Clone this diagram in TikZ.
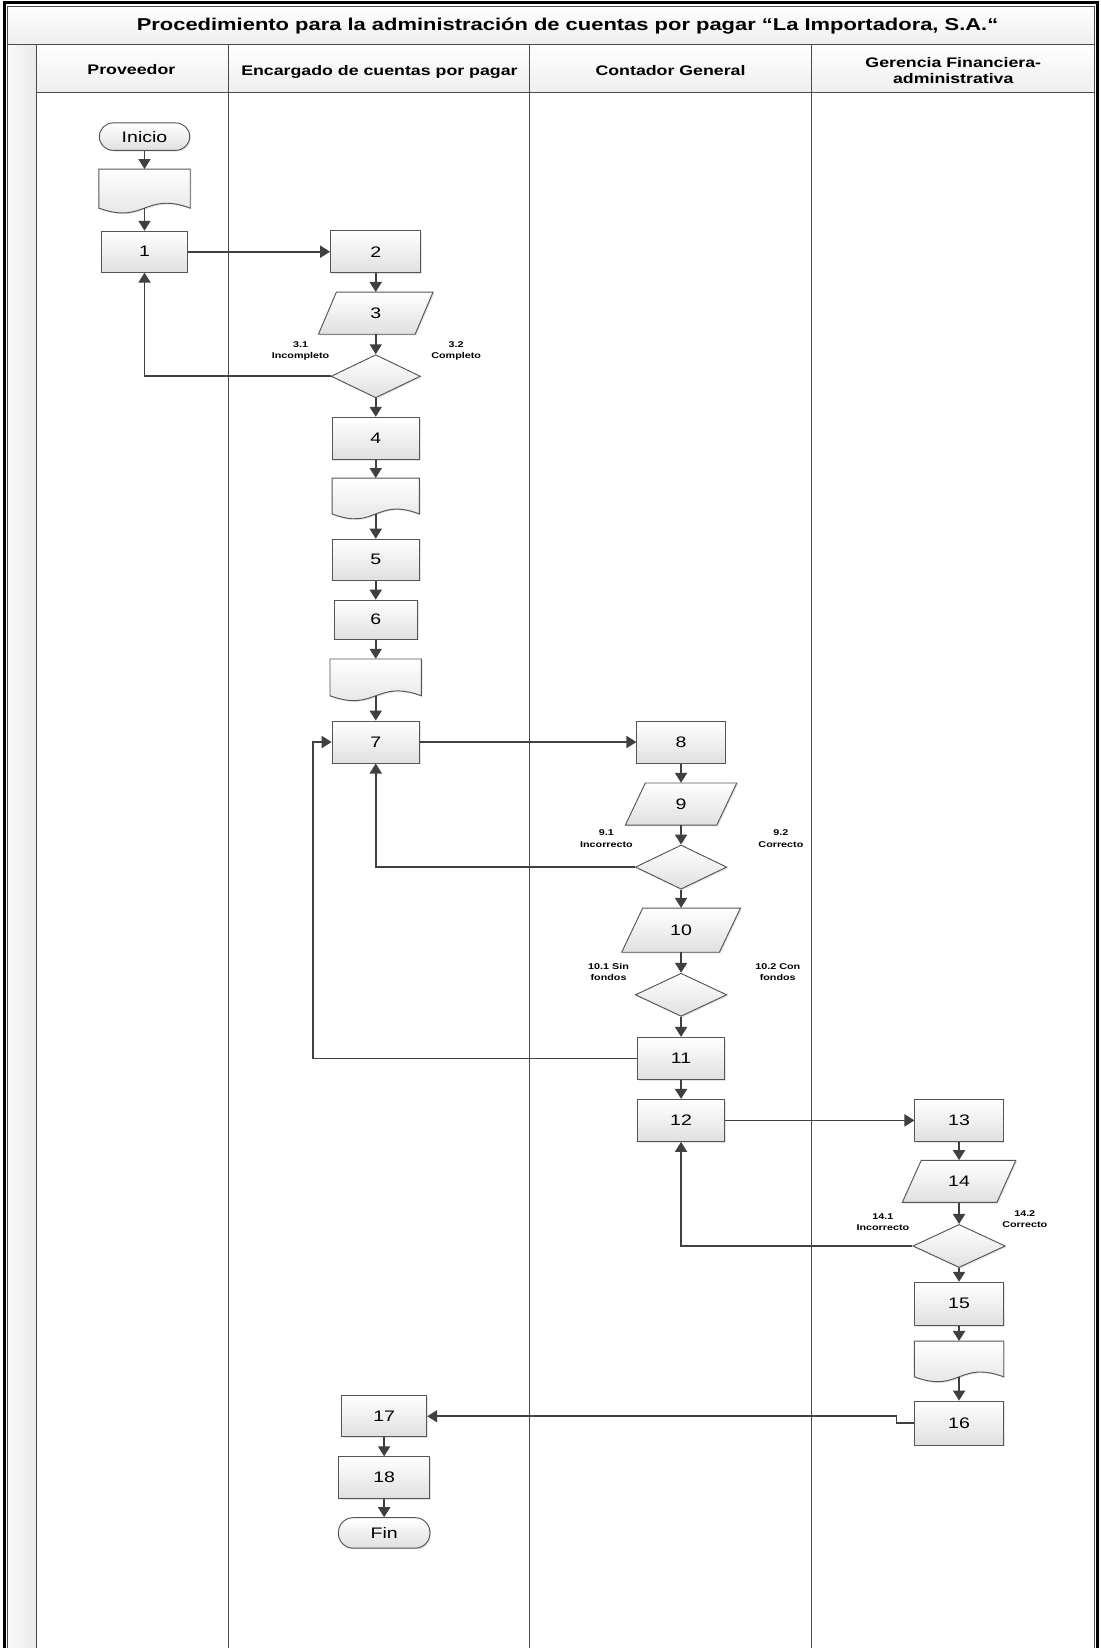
\documentclass[tikz,border=0pt]{standalone}
\usepackage{fontspec}
\setmainfont{Liberation Sans}[FakeStretch=1.28]
\usetikzlibrary{shapes.geometric,arrows.meta,shadows,calc}
\definecolor{lineclr}{HTML}{404040}
\definecolor{boxline}{HTML}{555555}
\definecolor{boxbot}{HTML}{E0E0E0}
\definecolor{lanegray}{HTML}{4A4A4A}
\newcommand{\nfnt}{\fontsize{14.5}{16}\selectfont}
\newcommand{\lfnt}{\bfseries\fontsize{8}{11}\selectfont}
\newcommand{\hfnt}{\bfseries\fontsize{13.2}{15}\selectfont}
\tikzset{
  shade box/.style={top color=white, bottom color=boxbot, draw=boxline, line width=0.9pt},
  shadowopt/.style={drop shadow={shadow xshift=1.2pt, shadow yshift=-1.2pt, opacity=0.22}},
  procbox/.style={rectangle, shade box, shadowopt, inner sep=0pt, font=\nfnt},
  termbox/.style={rectangle, rounded corners=13pt, shade box, shadowopt, inner sep=0pt, font=\nfnt},
  decbox/.style={diamond, shade box, shadowopt, inner sep=0pt},
  lbl/.style={align=center, font=\lfnt, inner sep=0pt},
  hdr/.style={align=center, font=\hfnt, inner sep=0pt},
  conn/.style={draw=lineclr, line width=1.6pt, -{Triangle[length=9.5pt,width=11.5pt]}},
  lane/.style={draw=lanegray, line width=1pt}
}
% document shape: name, xl, xr, ytop, ybase
\newcommand{\docshape}[5]{%
  \path[shade box, shadowopt] (#2,-#4) -- (#3,-#4) -- (#3,-#5)
    .. controls ({(#2+#3)/2},{-#5+16}) and ({(#2+#3)/2},{-#5-16}) .. (#2,-#5) -- cycle;
  \node[inner sep=0pt, minimum width={#3-#2}, minimum height={#5-#4}] (#1) at ({(#2+#3)/2},{-(#4+#5)/2}) {};
}
% io shape: name, cx, cy, total width, height, slant, text
\newcommand{\ioshape}[7]{%
  \path[shade box, shadowopt] ({#2-#4/2+#6},{-#3+#5/2}) -- ({#2+#4/2},{-#3+#5/2})
    -- ({#2+#4/2-#6},{-#3-#5/2}) -- ({#2-#4/2},{-#3-#5/2}) -- cycle;
  \node[inner sep=0pt, minimum width={#4-2*#6}, minimum height=#5, font=\nfnt] (#1) at (#2,-#3) {#7};
}
\begin{document}
\begin{tikzpicture}[x=1pt,y=1pt]
\fill[white] (0,0) rectangle (1047,-1568);
\useasboundingbox (0,0) rectangle (1047,-1568);
% frame
\path[top color=white, bottom color=gray!13] (7.5,-6) rectangle (1041,-42);
\path[left color=gray!5, right color=gray!17] (7.5,-42) rectangle (35,-1572);
\path[top color=white, bottom color=gray!13] (35,-42) rectangle (1041,-88);
\draw[lane] (7.5,-42) -- (1041,-42);
\draw[lane] (35,-88) -- (1041,-88);
\foreach \xx in {35,217,504,772} { \draw[lane] (\xx,-42) -- (\xx,-1572); }
\draw[gray!60!black, line width=1pt] (7.5,-1572) -- (7.5,-6) -- (1041,-6) -- (1041,-1572);
\draw[black, line width=2.5pt] (4,-1572) -- (4,-2.5) -- (1044.5,-2.5) -- (1044.5,-1572);
% titles
\node[font=\bfseries\fontsize{16.3}{18}\selectfont, inner sep=0pt] (title) at (540,-25) {Procedimiento para la administración de cuentas por pagar “La Importadora, S.A.“};
\node[hdr] (h1) at (125,-66) {Proveedor};
\node[hdr] (h2) at (361,-68) {Encargado de cuentas por pagar};
\node[hdr] (h3) at (638,-67) {Contador General};
\node[hdr] (h4) at (907,-67) {Gerencia Financiera-\\administrativa};
% Proveedor lane
\node[termbox, minimum width=86pt, minimum height=26pt] (ini) at (137.5,-130) {Inicio};
\docshape{d1}{94}{181}{161}{198}
\node[procbox, minimum width=81pt, minimum height=39pt] (p1) at (137.5,-239.5) {1};
% Encargado lane
\node[procbox, minimum width=86pt, minimum height=40pt] (p2) at (357.5,-239.5) {2};
\ioshape{io3}{357.5}{298}{109}{40}{17}{3}
\node[decbox, minimum width=85pt, minimum height=41pt] (dia3) at (357.5,-358) {};
\node[procbox, minimum width=83pt, minimum height=40pt] (p4) at (357.5,-417) {4};
\docshape{d4}{316}{399}{455}{489}
\node[procbox, minimum width=83pt, minimum height=39pt] (p5) at (357.5,-532.5) {5};
\node[procbox, minimum width=79pt, minimum height=37pt] (p6) at (357.5,-589.5) {6};
\docshape{d6}{314}{401}{627}{662}
\node[procbox, minimum width=83pt, minimum height=40pt] (p7) at (357.5,-706) {7};
% Contador lane
\node[procbox, minimum width=84pt, minimum height=40pt] (p8) at (648,-706) {8};
\ioshape{io9}{648}{765}{106}{40}{19}{9}
\node[decbox, minimum width=87pt, minimum height=42pt] (dia9) at (648,-825) {};
\ioshape{io10}{648}{885}{113}{42}{20}{10}
\node[decbox, minimum width=87pt, minimum height=41pt] (dia10) at (648,-946.5) {};
\node[procbox, minimum width=83pt, minimum height=40pt] (p11) at (648,-1007) {11};
\node[procbox, minimum width=83pt, minimum height=40pt] (p12) at (648,-1066) {12};
% Gerencia lane
\node[procbox, minimum width=84pt, minimum height=40pt] (p13) at (912.5,-1066) {13};
\ioshape{io14}{912.5}{1124}{108}{40}{18}{14}
\node[decbox, minimum width=88pt, minimum height=41pt] (dia14) at (912.5,-1185.5) {};
\node[procbox, minimum width=85pt, minimum height=41pt] (p15) at (912.5,-1240.5) {15};
\docshape{d15}{870}{955}{1276}{1310}
\node[procbox, minimum width=85pt, minimum height=42pt] (p16) at (912.5,-1354) {16};
% bottom of Encargado lane
\node[procbox, minimum width=81pt, minimum height=39pt] (p17) at (365.5,-1347.5) {17};
\node[procbox, minimum width=87pt, minimum height=40pt] (p18) at (365.5,-1406) {18};
\node[termbox, minimum width=87pt, minimum height=29pt, rounded corners=14pt] (fin) at (365.5,-1458.5) {Fin};
% labels
\node[lbl] (l31) at (286,-334) {3.1\\Incompleto};
\node[lbl] (l32) at (434,-334) {3.2\\Completo};
\node[lbl] (l91) at (577,-798) {9.1\\Incorrecto};
\node[lbl] (l92) at (743,-798) {9.2\\Correcto};
\node[lbl] (l101) at (579,-925) {10.1 Sin\\fondos};
\node[lbl] (l102) at (740,-925) {10.2 Con\\fondos};
\node[lbl] (l141) at (840,-1163) {14.1\\Incorrecto};
\node[lbl] (l142) at (975,-1160) {14.2\\Correcto};
% helper coordinates
\coordinate (c11) at (298,-1007);
\coordinate (c16) at (853,-1354);
% connectors
\draw[conn] (ini.south) -- (d1.north);
\draw[conn] (d1.south) -- (p1.north);
\draw[conn] (p1.east) -- (p2.west);
\draw[conn] (p2.south) -- (io3.north);
\draw[conn] (io3.south) -- (dia3.north);
\draw[conn] (dia3.south) -- (p4.north);
\draw[conn] (p4.south) -- (d4.north);
\draw[conn] (d4.south) -- (p5.north);
\draw[conn] (p5.south) -- (p6.north);
\draw[conn] (p6.south) -- (d6.north);
\draw[conn] (d6.south) -- (p7.north);
\draw[conn] (dia3.west) -| (p1.south);
\draw[conn] (p7.east) -- (p8.west);
\draw[conn] (p8.south) -- (io9.north);
\draw[conn] (io9.south) -- (dia9.north);
\draw[conn] (dia9.south) -- (io10.north);
\draw[conn] (io10.south) -- (dia10.north);
\draw[conn] (dia10.south) -- (p11.north);
\draw[conn] (p11.south) -- (p12.north);
\draw[conn] (dia9.west) -| (p7.south);
\draw[conn] (p11.west) -- (c11) |- (p7.west);
\draw[conn] (p12.east) -- (p13.west);
\draw[conn] (p13.south) -- (io14.north);
\draw[conn] (io14.south) -- (dia14.north);
\draw[conn] (dia14.south) -- (p15.north);
\draw[conn] (p15.south) -- (d15.north);
\draw[conn] (d15.south) -- (p16.north);
\draw[conn] (dia14.west) -| (p12.south);
\draw[conn] (p16.west) -- (c16) |- (p17.east);
\draw[conn] (p17.south) -- (p18.north);
\draw[conn] (p18.south) -- (fin.north);
\end{tikzpicture}
\end{document}
